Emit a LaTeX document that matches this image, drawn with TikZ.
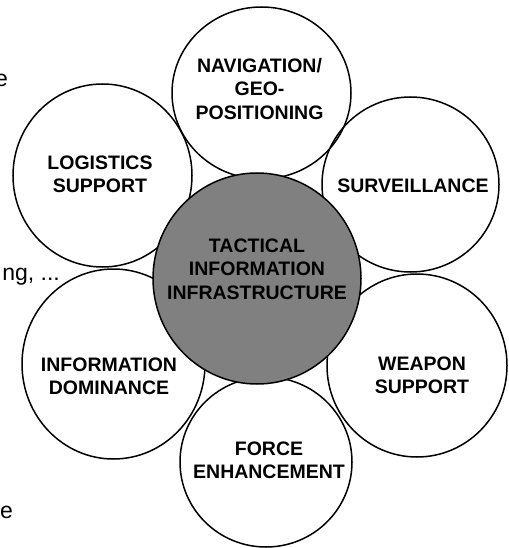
\documentclass[tikz,border=0pt]{standalone}
\usepackage{fontspec}
\setmainfont{Liberation Sans}
\usetikzlibrary{shapes.geometric}
\definecolor{hubgrey}{RGB}{128,128,128}
\tikzset{
  bubble/.style={ellipse, draw=black, line width=1.5pt, inner sep=0pt},
  hub/.style={ellipse, draw=black, fill=hubgrey, line width=1.5pt, inner sep=0pt},
  lbl/.style={font=\bfseries\fontsize{19.5}{23.5}\selectfont, align=center, inner sep=0pt, anchor=center},
  side/.style={font=\fontsize{23}{27}\selectfont, inner sep=0pt, anchor=base east}
}
\begin{document}
\begin{tikzpicture}[x=1pt,y=-1pt]
\clip (0,0) rectangle (508,548);
% outer bubbles (outlines only)
\node[bubble, minimum width=179pt, minimum height=183pt] (log) at (102.5,175.5) {};
\node[bubble, minimum width=179pt, minimum height=172pt] (nav) at (261.5,93) {};
\node[bubble, minimum width=177pt, minimum height=175pt] (surv) at (410.5,184.5) {};
\node[bubble, minimum width=183pt, minimum height=190pt] (info) at (113.5,364) {};
\node[bubble, minimum width=180pt, minimum height=183pt] (weap) at (417,365.5) {};
\node[bubble, minimum width=172pt, minimum height=170pt] (force) at (266,462) {};
% central hub
\node[hub, minimum width=208pt, minimum height=211pt] (hubc) at (257,278.5) {};
% labels
\node[lbl] (tlog) at (100,174.5) {LOGISTICS\\SUPPORT};
\node[lbl] (tnav) at (259.5,89) {NAVIGATION/\\GEO-\\POSITIONING};
\node[lbl] (tsurv) at (413,186) {SURVEILLANCE};
\node[lbl] (thub) at (257,269) {TACTICAL\\INFORMATION\\INFRASTRUCTURE};
\node[lbl] (tinfo) at (109,376.5) {INFORMATION\\DOMINANCE};
\node[lbl] (tweap) at (422,375.5) {WEAPON\\SUPPORT};
\node[lbl] (tforce) at (269,460.5) {FORCE\\ENHANCEMENT};
% clipped slide text at the left edge
\node[side] (s1) at (8,87) {e};
\node[side] (s2) at (60,280) {ng, ...};
\node[side] (s3) at (13,518) {e};
\end{tikzpicture}
\end{document}
